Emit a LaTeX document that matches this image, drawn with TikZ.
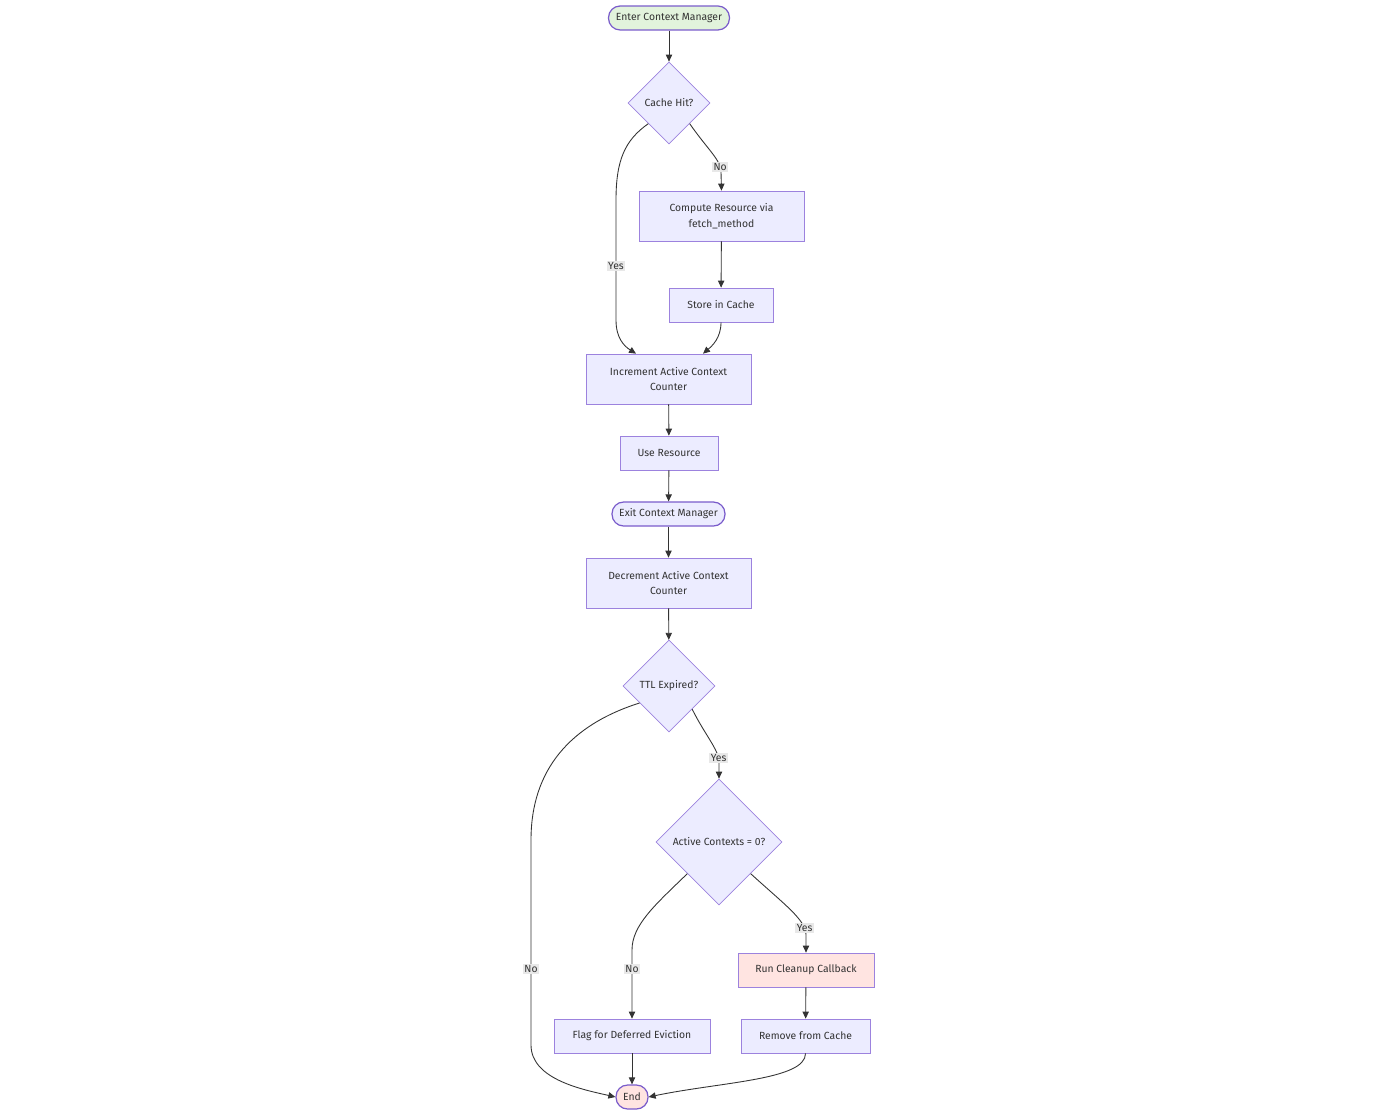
\documentclass[tikz,border=0pt]{standalone}
\usepackage{fontspec}
\setmainfont{Fira Sans}
\usepackage{xcolor}
\usetikzlibrary{positioning}
\usetikzlibrary{shapes.geometric,calc}
\usetikzlibrary{calc,arrows.meta,backgrounds}
\definecolor{boxfill}{HTML}{ECECFF}
\definecolor{boxline}{HTML}{9C82DE}
\definecolor{termline}{HTML}{7A5CCB}
\definecolor{startgreen}{HTML}{E2F3DC}
\definecolor{endpink}{HTML}{FFE4E1}
\definecolor{edgegray}{HTML}{333333}
\definecolor{lblgray}{HTML}{E8E8E8}
\tikzset{
	proc/.style={rectangle,draw=boxline,fill=boxfill,line width=0.4pt,inner sep=1pt,align=center,text=edgegray},
	term/.style={rectangle,rounded corners=6.6pt,draw=termline,fill=boxfill,line width=0.7pt,minimum height=0.48cm,inner sep=1pt,text=edgegray},
	choice/.style={diamond,aspect=1,draw=boxline,fill=boxfill,line width=0.4pt,inner sep=0pt,text=edgegray},
	flow/.style={draw=edgegray,line width=0.5pt,-{Triangle[length=4pt,width=3.6pt]}},
	lbl/.style={fill=lblgray,inner sep=0.8pt,text=edgegray}
}
\begin{document}
\begin{tikzpicture}[x=0.02cm,y=-0.02cm,font=\fontsize{5.9}{9}\selectfont]
		\useasboundingbox (0,0) rectangle (1400,1115);
		\draw (669,18) node[term,fill=startgreen,minimum width=2.42cm,name=start]{Enter Context Manager};
		\draw (669,103) node[choice,minimum width=1.64cm,minimum height=1.64cm,name=cache]{Cache Hit?};
		\draw (721.5,216) node[proc,minimum width=3.3cm,minimum height=1cm,name=compute]{Compute Resource via\\fetch\_method};
		\draw (721,305) node[proc,minimum width=2.08cm,minimum height=0.68cm,name=store]{Store in Cache};
		\draw (668.5,379) node[proc,minimum width=3.3cm,minimum height=1cm,name=inc]{Increment Active Context\\Counter};
		\draw (669,453) node[proc,minimum width=1.96cm,minimum height=0.68cm,name=use]{Use Resource};
		\draw (668.5,514) node[term,minimum width=2.26cm,name=exit]{Exit Context Manager};
		\draw (668.5,583) node[proc,minimum width=3.3cm,minimum height=1cm,name=dec]{Decrement Active Context\\Counter};
		\draw (669,686) node[choice,minimum width=1.84cm,minimum height=1.84cm,name=ttl]{TTL Expired?};
		\draw (719,842) node[choice,minimum width=2.52cm,minimum height=2.52cm,name=active]{Active Contexts = 0?};
		\draw (806,970) node[proc,fill=endpink,minimum width=2.72cm,minimum height=0.68cm,name=cleanup]{Run Cleanup Callback};
		\draw (632,1036) node[proc,minimum width=3.12cm,minimum height=0.68cm,name=flag]{Flag for Deferred Eviction};
		\draw (805.5,1036) node[proc,minimum width=2.58cm,minimum height=0.68cm,name=remove]{Remove from Cache};
		\draw (632,1097) node[term,fill=endpink,minimum width=0.64cm,name=end]{End};

		\draw [flow] (start) -- (cache);
		\draw [flow] (cache.south east) .. controls (708,150) and (721,160) .. (721,172) node[lbl,pos=0.85]{No} -- (compute.north);
		\draw [flow] (cache.south west) .. controls (625,140) and (616,160) .. (616,200) -- node[lbl,pos=0.55]{Yes} (616,320) .. controls (616,338) and (624,346) .. ($(inc.north)+(-32.5,0)$);
		\draw [flow] (compute) -- (store);
		\draw [flow] (store.south) .. controls (721,338) and (712,346) .. ($(inc.north)+(34.5,0)$);
		\draw [flow] (inc) -- (use);
		\draw [flow] (use) -- (exit);
		\draw [flow] (exit) -- (dec);
		\draw [flow] (dec) -- (ttl);
		\draw [flow] (ttl.south east) .. controls (705,735) and (719,750) .. (719,762) node[lbl,pos=0.9]{Yes} -- (active.north);
		\draw [flow] (ttl.210) .. controls (570,725) and (531,770) .. (531,840) -- node[lbl,pos=0.63]{No} (531,1045) .. controls (531,1080) and (585,1090) .. (end.west);
		\draw [flow] (active.south east) .. controls (785,905) and (806,920) .. (806,935) node[lbl,pos=0.85]{Yes} -- (cleanup.north);
		\draw [flow] (active.south west) .. controls (655,905) and (632,925) .. (632,950) -- node[lbl,pos=0.27]{No} (flag.north);
		\draw [flow] (cleanup) -- (remove);
		\draw [flow] (flag) -- (end);
		\draw [flow] (remove.south) .. controls (806,1080) and (720,1082) .. (end.east);
	\end{tikzpicture}
\end{document}
